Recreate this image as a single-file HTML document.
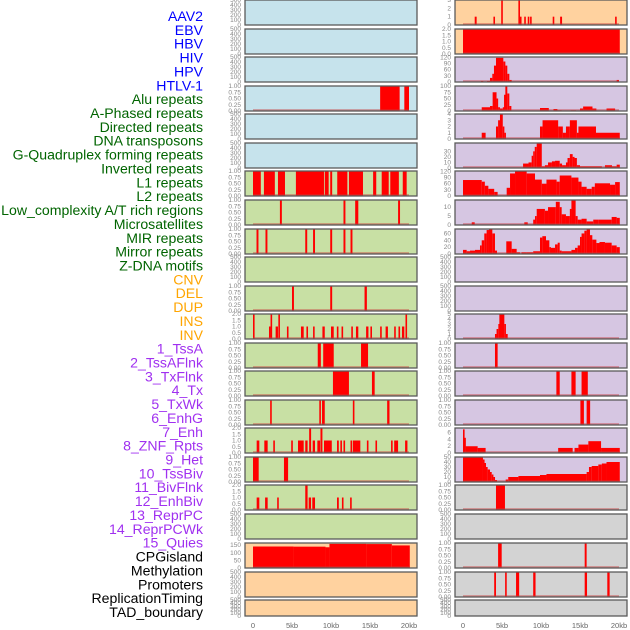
<!DOCTYPE html>
<html><head><meta charset="utf-8"><style>
body{margin:0;background:#fff;}
svg{display:block;font-family:"Liberation Sans",sans-serif;}
</style></head><body>
<svg id="chart" width="630" height="630" viewBox="0 0 630 630"></svg>
<script>
// ---------- data ----------
const trackLabels = ["AAV2","EBV","HBV","HIV","HPV","HTLV-1","Alu repeats","A-Phased repeats","Directed repeats","DNA transposons","G-Quadruplex forming repeats","Inverted repeats","L1 repeats","L2 repeats","Low_complexity A/T rich regions","Microsatellites","MIR repeats","Mirror repeats","Z-DNA motifs","CNV","DEL","DUP","INS","INV","1_TssA","2_TssAFlnk","3_TxFlnk","4_Tx","5_TxWk","6_EnhG","7_Enh","8_ZNF_Rpts","9_Het","10_TssBiv","11_BivFlnk","12_EnhBiv","13_ReprPC","14_ReprPCWk","15_Quies","CPGisland","Methylation","Promoters","ReplicationTiming","TAD_boundary"];
const xTickValues = [0,5,10,15,20];
const xTickLabels = ["0","5kb","10kb","15kb","20kb"];

const ticksBlank = ["0","100","200","300","400","500"];
const ticksFrac = ["0.00","0.25","0.50","0.75","1.00"];
const ticksTwo = ["0.0","0.5","1.0","1.5","2.0"];

// left column segments [startKb, endKb, value]
const left3 = [[16.3,18.8,1],[19.4,20.0,1]];
const left6 = [[0,1.0,1],[1.4,2.8,1],[3.2,4.1,1],[5.5,9.1,1],[9.2,9.7,1],[9.9,10.15,1],[10.8,12.1,1],[12.3,14.1,1],[15.4,15.8,1],[16.5,17.4,1],[17.6,18.7,1],[19.2,19.7,1]];
const left7 = [[3.45,3.7,1],[11.6,11.85,1],[13.1,13.5,1],[18.6,18.85,1]];
const left8 = [[0.45,0.7,1],[1.6,1.85,1],[6.7,6.95,1],[7.7,7.95,1],[9.9,10.15,1],[11.6,11.85,1],[12.5,12.75,1]];
const left10 = [[5.0,5.25,1],[9.9,10.15,1],[14.3,14.6,1]];
const left11 = [[0,0.2,2],[2.05,2.25,1],[2.25,2.45,2],[2.9,3.2,1],[3.25,3.45,2],[4.35,4.55,1],[6.15,6.5,1],[6.85,7.05,1],[7.7,7.9,1],[8.9,9.2,1],[10.0,10.35,1],[10.75,10.95,1],[11.35,11.55,1],[12.6,12.8,1],[13.2,13.5,1],[14.5,14.8,1],[15.05,15.25,1],[16.3,16.5,1],[17.0,17.3,1],[18.1,18.3,1],[18.65,18.85,1],[19.1,19.4,1],[19.55,19.75,2]];
const left12 = [[8.3,8.7,1],[9.0,10.35,1],[13.85,14.75,1]];
const left13 = [[10.25,12.3,1],[15.25,15.6,1]];
const left14 = [[2.2,2.4,1],[8.5,8.7,1],[8.85,9.2,1],[12.8,13.0,1],[17.2,17.5,1]];
const left15 = [[0.47,0.81,1],[1.45,1.88,1],[2.6,2.8,1],[4.9,5.1,1],[5.77,6.5,1],[6.7,7.0,1],[7.2,7.45,2],[7.65,7.95,1],[8.25,8.6,1],[8.65,8.9,2],[9.1,10.1,1],[10.77,11.0,1],[11.2,11.4,1],[11.6,11.8,1],[12.5,12.65,1],[12.8,13.76,1],[14.6,14.75,1],[15.7,15.85,1],[17.7,17.9,1],[18.1,18.6,1],[19.5,19.8,1]];
const left16 = [[0,0.73,1],[3.97,4.5,1]];
const left17 = [[0.47,0.81,1],[1.55,1.88,1],[3.1,3.3,1],[6.7,7.0,2],[7.14,7.44,1],[7.6,7.95,1],[10.77,11.0,1],[11.4,11.6,1],[12.45,12.65,1]];
const left19 = [[0,5.2,141],[5.2,9.3,140],[9.3,9.8,136],[9.8,14.5,158],[14.5,17.8,157],[17.8,20.1,148]];

// right column segments
const right0 = [[1.5,1.75,1],[3.9,4.1,1],[4.9,5.1,3],[7.1,7.3,3],[7.3,7.45,1],[7.85,8.05,1],[8.3,8.5,1],[8.6,8.8,1],[11.5,11.7,1],[12.45,12.7,1],[19.5,19.7,1]];
const right1 = [[0,20.1,2]];
const right2 = [[2.3,2.6,5],[3.08,3.46,5],[3.46,3.76,20],[3.76,3.97,40],[3.97,4.23,80],[4.23,5.17,118],[5.17,5.43,100],[5.43,5.68,80],[5.68,5.94,40],[5.94,6.24,10],[19.7,20.0,10]];
const right3 = [[2.4,3.46,15],[3.46,3.8,20],[3.8,4.3,75],[4.3,4.5,50],[4.5,4.74,15],[4.74,5.1,10],[5.1,5.26,15],[5.26,5.43,65],[5.43,5.68,100],[5.68,5.94,70],[5.94,6.2,20],[9.87,11.0,12],[11.6,12.1,8],[12.1,12.65,3],[13.8,14.5,3],[15.0,15.4,10],[15.4,16.6,18],[16.6,17.1,10],[18.4,19.5,10]];
const right4 = [[2.4,2.9,1],[4.23,4.5,2],[4.5,4.74,3],[4.74,5.1,4],[5.1,5.3,2],[5.3,5.47,1],[9.87,10.2,2],[10.2,12.2,3],[12.2,12.8,2],[12.8,13.2,1],[13.2,13.7,2],[13.7,14.6,3],[14.6,14.8,1],[14.8,17.05,2],[17.05,20.1,1]];
const right5 = [[7.7,8.4,8],[8.4,8.8,10],[8.8,9.0,22],[9.0,9.2,30],[9.2,9.45,38],[9.45,10.1,44],[10.1,10.5,3],[10.5,10.9,5],[10.9,11.4,10],[11.4,11.8,12],[11.8,12.4,13],[12.4,12.7,8],[12.7,13.2,5],[13.2,13.4,10],[13.4,13.7,18],[13.7,14.06,25],[14.06,14.3,20],[14.3,14.6,18],[14.6,15.0,5],[15.0,17.8,3],[18.2,19.1,5],[19.1,19.7,3],[19.7,20.1,6]];
const right6 = [[0,2.4,78],[2.4,2.8,70],[2.8,3.25,50],[3.25,4.0,35],[4.0,4.44,20],[5.6,6.03,40],[6.03,6.67,110],[6.67,8.16,120],[8.16,9.23,110],[9.23,10.1,80],[10.1,10.7,60],[10.7,12.0,80],[12.0,12.4,70],[12.4,13.9,100],[13.9,14.8,90],[14.8,15.2,70],[15.2,15.85,45],[15.85,16.5,35],[16.5,16.9,45],[16.9,18.85,62],[18.85,19.5,55],[19.5,20.1,68]];
const right7 = [[1.12,1.5,1.5],[7.86,8.3,1.5],[9.0,9.23,3],[9.23,9.45,5],[9.45,10.5,9],[10.5,10.9,8],[10.9,11.9,10],[11.9,12.4,13],[12.4,12.65,10],[12.65,13.2,6],[13.2,13.7,5],[13.7,13.9,9],[13.9,14.44,14],[14.44,14.7,5],[14.7,15.2,3],[15.2,15.85,3.5],[15.85,16.7,2],[16.7,17.35,3],[17.35,19.06,3],[19.06,19.7,4.5],[19.7,20.1,4]];
const right8 = [[0,0.47,12],[0.47,0.9,8],[0.9,1.54,10],[1.54,2.18,12],[2.18,2.4,25],[2.4,2.73,40],[2.73,3.03,60],[3.03,3.33,70],[3.33,3.76,73],[3.76,4.1,60],[4.1,4.36,10],[5.55,6.24,37],[6.24,6.88,15],[6.88,7.3,5],[7.5,8.16,5],[8.16,9.0,5],[9.0,9.87,8],[9.87,10.17,48],[10.17,10.64,52],[10.64,11.07,40],[11.07,11.28,20],[11.28,11.8,18],[11.8,12.14,28],[12.14,12.4,33],[12.4,12.65,10],[12.65,13.9,8],[13.9,14.36,12],[14.36,14.7,18],[14.7,15.0,25],[15.0,15.2,50],[15.2,15.56,60],[15.56,15.85,68],[15.85,16.28,73],[16.28,16.58,55],[16.58,17.1,42],[17.1,17.5,32],[17.5,18.2,35],[18.2,19.06,33],[19.06,19.7,25],[19.7,20.1,20]];
const right11 = [[4.1,4.3,1],[4.3,4.53,2],[4.53,4.66,3],[4.66,5.3,5],[5.3,5.5,3],[5.5,5.73,1]];
const right12 = [[4.1,4.44,1]];
const right13 = [[11.97,12.4,1],[13.9,14.44,1],[15.2,16.0,1]];
const right14 = [[15.05,15.5,1],[15.85,16.3,1]];
const right15 = [[0,0.16,7],[0.16,0.34,4.5],[0.34,1.88,2],[1.88,2.9,1.5],[12.2,14.06,1.5],[14.3,14.8,1.5],[14.8,16.07,2.5],[16.07,17.7,3.5],[17.7,20.1,1.5]];
const right16 = [[0,2.56,50],[2.56,2.73,45],[2.73,2.95,38],[2.95,3.16,30],[3.16,3.46,25],[3.46,3.68,20],[3.68,3.9,15],[3.9,4.1,10],[4.1,4.36,4],[5.47,5.8,5],[5.8,7.1,10],[7.1,9.87,12],[9.87,10.7,14],[10.7,15.85,16],[15.85,16.15,20],[16.15,16.5,30],[16.5,17.35,32],[17.35,17.8,35],[17.8,18.4,37],[18.4,20.1,40]];
const right17 = [[4.23,5.38,1]];
const right19 = [[4.5,4.96,1],[15.6,15.85,1]];
const right20 = [[4.0,4.23,1],[5.4,5.6,1],[6.8,7.2,1],[9.0,9.3,1],[15.6,15.9,1],[18.5,18.8,1]];

// ---------- layout / styles ----------
const rowTops = [0,29,57,86,114,143,171,200,229,257,286,314,343,371,400,428,457,485,514,543,572,600];
const C_BLUE="#c6e3ec", C_GREEN="#c8e0a4", C_ORANGE="#ffd29f", C_PURPLE="#d6c6e2", C_GRAY="#d3d3d3";
function P(bg,data,ymax,ticks){return {bg,data,ymax,ticks};}
const leftPanels = [
 P(C_BLUE,null,500,ticksBlank),P(C_BLUE,null,500,ticksBlank),P(C_BLUE,null,500,ticksBlank),
 P(C_BLUE,left3,1,ticksFrac),P(C_BLUE,null,500,ticksBlank),P(C_BLUE,null,500,ticksBlank),
 P(C_GREEN,left6,1,ticksFrac),P(C_GREEN,left7,1,ticksFrac),P(C_GREEN,left8,1,ticksFrac),
 P(C_GREEN,null,500,ticksBlank),P(C_GREEN,left10,1,ticksFrac),P(C_GREEN,left11,2,ticksTwo),
 P(C_GREEN,left12,1,ticksFrac),P(C_GREEN,left13,1,ticksFrac),P(C_GREEN,left14,1,ticksFrac),
 P(C_GREEN,left15,2,ticksTwo),P(C_GREEN,left16,1,ticksFrac),P(C_GREEN,left17,2,ticksTwo),
 P(C_GREEN,null,500,ticksBlank),P(C_ORANGE,left19,164,["0","50","100","150"]),
 P(C_ORANGE,null,500,ticksBlank),P(C_ORANGE,null,500,ticksBlank)];
const rightPanels = [
 P(C_ORANGE,right0,3,["0","1","2","3"]),P(C_ORANGE,right1,2,ticksTwo),
 P(C_PURPLE,right2,122,["0","30","60","90","120"]),P(C_PURPLE,right3,100,["0","25","50","75","100"]),
 P(C_PURPLE,right4,4,["0","1","2","3","4"]),P(C_PURPLE,right5,45,["0","10","20","30"]),
 P(C_PURPLE,right6,122,["0","30","60","90","120"]),P(C_PURPLE,right7,14,["0","5","10"]),
 P(C_PURPLE,right8,73,["0","20","40","60"]),P(C_PURPLE,null,500,ticksBlank),
 P(C_PURPLE,null,500,ticksBlank),P(C_PURPLE,right11,5,["0","1","2","3","4","5"]),
 P(C_PURPLE,right12,1,ticksFrac),P(C_PURPLE,right13,1,ticksFrac),P(C_PURPLE,right14,1,ticksFrac),
 P(C_PURPLE,right15,7.4,["0","2","4","6"]),P(C_PURPLE,right16,50,["0","10","20","30","40","50"]),
 P(C_GRAY,right17,1,ticksFrac),P(C_GRAY,null,500,ticksBlank),P(C_GRAY,right19,1,ticksFrac),
 P(C_GRAY,right20,1,ticksFrac),P(C_GRAY,null,500,ticksBlank)];

const NS="http://www.w3.org/2000/svg";
const svg=document.getElementById('chart');
function mk(tag,attrs,parent){const e=document.createElementNS(NS,tag);for(const k in attrs)e.setAttribute(k,attrs[k]);(parent||svg).appendChild(e);return e;}

// labels
const labelColor=i=> i<6?"#0000ff": i<19?"#006400": i<24?"#ffa500": i<39?"#a030f0":"#000000";
trackLabels.forEach((t,i)=>{
  const tx=mk('text',{x:203,y:(21+i*13.86).toFixed(1),'text-anchor':'end','font-size':14.1,fill:labelColor(i)});
  tx.textContent=t;
  
  
});

function drawColumn(panels,px0,px1,dx0,dx1,side){
  const xs=kb=>dx0+(kb/20)*(dx1-dx0);
  panels.forEach((p,i)=>{
    const top=rowTops[i], h=(i===rowTops.length-1)?16:25, bot=top+h;
    const g=mk('g',{});
    
    
    mk('rect',{x:px0,y:top,width:px1-px0,height:h,fill:p.bg},g);
    const ys=v=>bot-(v/p.ymax)*h;
    if(p.data){
      p.data.forEach(d=>{
        const x0=xs(d[0]),x1=xs(d[1]);
        const r=mk('rect',{x:x0.toFixed(2),y:ys(d[2]).toFixed(2),width:Math.max(1.6,x1-x0).toFixed(2),height:(bot-ys(d[2])).toFixed(2),fill:"#ff0000"},g);
        
        
      });
      mk('line',{x1:xs(0),x2:xs(20),y1:bot-1,y2:bot-1,stroke:"rgba(200,60,60,0.55)",'stroke-width':1.5},g);
    }
    mk('rect',{x:px0,y:top,width:px1-px0,height:h,fill:'none',stroke:'#5a5a5a','stroke-width':1.3},g);
    p.ticks.forEach((t,k)=>{
      const val=parseFloat(t);
      const ty=ys(val);
      const tt=mk('text',{x:px0-4,y:(ty+2).toFixed(1),'text-anchor':'end','font-size':6.5,fill:'#888'},g);
      tt.textContent=t;
      
      
    });
  });
  xTickValues.forEach((v,k)=>{
    const t=mk('text',{x:xs(v),y:628,'text-anchor':'middle','font-size':7.5,fill:'#666'});
    t.textContent=xTickLabels[k];
    
    
  });
}
drawColumn(leftPanels,245,417,253,409,'left');
drawColumn(rightPanels,455,627,463,619,'right');
</script>
</body></html>
